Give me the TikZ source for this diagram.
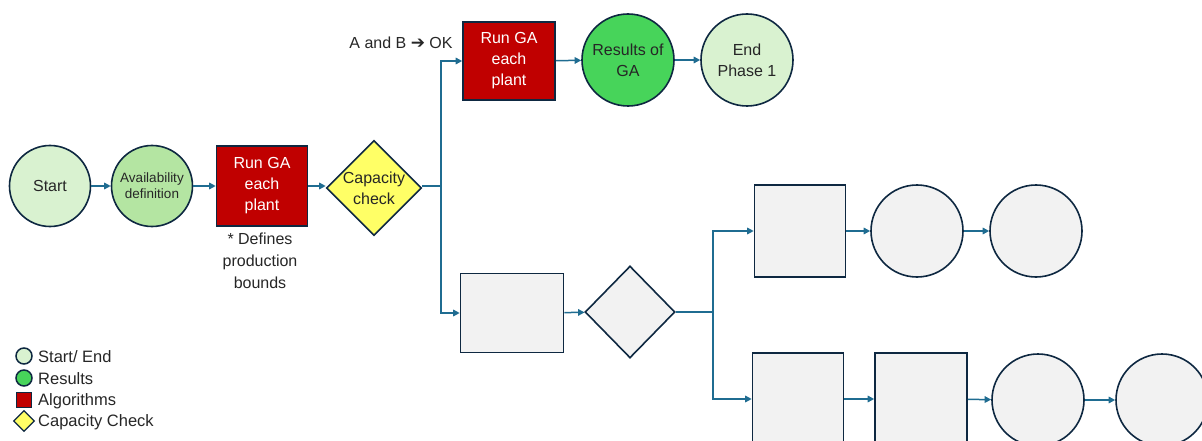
\documentclass[tikz,border=0pt]{standalone}
\usepackage{fontspec}
\setmainfont{Liberation Sans}
\newfontfamily\arrowfont{DejaVu Sans}
\usetikzlibrary{shapes.geometric,arrows.meta}
\definecolor{outl}{HTML}{0E2841}
\definecolor{conn}{HTML}{1F6C91}
\definecolor{startfill}{HTML}{D9F2D0}
\definecolor{availfill}{HTML}{B4E5A2}
\definecolor{resfill}{HTML}{47D45A}
\definecolor{algfill}{HTML}{C00000}
\definecolor{capfill}{HTML}{FFFF66}
\definecolor{greyfill}{HTML}{F2F2F2}
\tikzset{
  base/.style={draw=outl, line width=1.6pt, inner sep=0pt, align=center, font=\fontsize{16}{21}\selectfont, text=black!85},
  circ/.style={base, circle, minimum size=#1},
  circ/.default=92pt,
  box/.style={base, rectangle, minimum width=#1},
  dia/.style={base, diamond, minimum width=90pt, minimum height=90pt},
  conn/.style={draw=conn, line width=1.5pt, -{Triangle[length=6.5pt,width=6.5pt]}},
  plain/.style={draw=conn, line width=1.5pt},
}
\begin{document}
\begin{tikzpicture}[x=1pt,y=-1pt]
\useasboundingbox (0,0) rectangle (1202,441);
% main row
\node[circ=81pt, fill=startfill] (start) at (50,186) {Start};
\node[circ=81pt, fill=availfill, font=\fontsize{13.5}{16}\selectfont] (avail) at (152,186) {Availability\\definition};
\node[box=91pt, minimum height=80pt, fill=algfill, text=white] (ga1) at (262,186) {Run GA\\each\\plant};
\node[align=center, font=\fontsize{16}{22}\selectfont, text=black!85, anchor=north] (note) at (260,229) {* Defines\\production\\bounds};
\node[dia, fill=capfill] (cap) at (374,188) {Capacity\\check};
\coordinate (j1) at (441,186);
% top row
\node[box=92pt, minimum height=78pt, fill=algfill, text=white] (ga2) at (509,61) {Run GA\\each\\plant};
\node[circ, fill=resfill] (res) at (628,60) {Results of\\GA};
\node[circ, fill=startfill] (end1) at (747,60) {End\\Phase 1};
\node[font=\fontsize{16}{18}\selectfont, text=black!85] (ab) at (401,43) {A and B {\arrowfont\bfseries\fontsize{17}{17}\selectfont\raisebox{0.5pt}{➔}} OK};
% bottom branch
\node[box=103pt, minimum height=79pt, fill=greyfill] (b1) at (512,313) {};
\node[dia, minimum width=90pt, minimum height=92pt, fill=greyfill] (d2) at (630,312) {};
\coordinate (j2) at (713,312);
\node[box=91pt, minimum height=92pt, fill=greyfill] (b2) at (800,231) {};
\node[circ, fill=greyfill] (c1) at (917,231) {};
\node[circ, fill=greyfill] (c2) at (1036,231) {};
\node[box=91pt, minimum height=92pt, fill=greyfill] (b3) at (798,399) {};
\node[box=92pt, minimum height=92pt, fill=greyfill] (b4) at (921,399) {};
\node[circ, fill=greyfill] (c3) at (1038,400) {};
\node[circ, fill=greyfill] (c4) at (1162,400) {};
% connectors
\draw[conn] (start) -- (avail);
\draw[conn] (avail) -- (ga1);
\draw[conn] (ga1.east) -- (ga1.east -| cap.west);
\draw[plain] (cap.east |- j1) -- (j1);
\draw[conn] (j1) |- (ga2.west);
\draw[conn] (j1) |- (b1.west);
\draw[conn] (ga2) -- (res);
\draw[conn] (res) -- (end1);
\draw[conn] (b1) -- (d2);
\draw[plain] (d2.east) -- (j2);
\draw[conn] (j2) |- (b2.west);
\draw[conn] (j2) |- (b3.west);
\draw[conn] (b2) -- (c1);
\draw[conn] (c1) -- (c2);
\draw[conn] (b3) -- (b4);
\draw[conn] (b4) -- (c3);
\draw[conn] (c3) -- (c4);
% legend
\tikzset{leg/.style={font=\fontsize{16.5}{18}\selectfont, text=black!85, anchor=west, inner sep=0pt}}
\node[draw=outl, line width=1.5pt, circle, minimum size=16pt, inner sep=0pt, fill=startfill] (l1) at (24,356) {};
\node[leg] (t1) at (38,357) {Start/ End};
\node[draw=outl, line width=1.5pt, circle, minimum size=16pt, inner sep=0pt, fill=resfill] (l2) at (24,378) {};
\node[leg] (t2) at (38,379) {Results};
\node[draw=outl, line width=1.5pt, rectangle, minimum size=15pt, inner sep=0pt, fill=algfill] (l3) at (24,400) {};
\node[leg] (t3) at (38,401) {Algorithms};
\node[draw=outl, line width=1.2pt, diamond, minimum width=21pt, minimum height=21pt, inner sep=0pt, fill=capfill] (l4) at (24,421) {};
\node[leg] (t4) at (38,422) {Capacity Check};
\end{tikzpicture}
\end{document}
